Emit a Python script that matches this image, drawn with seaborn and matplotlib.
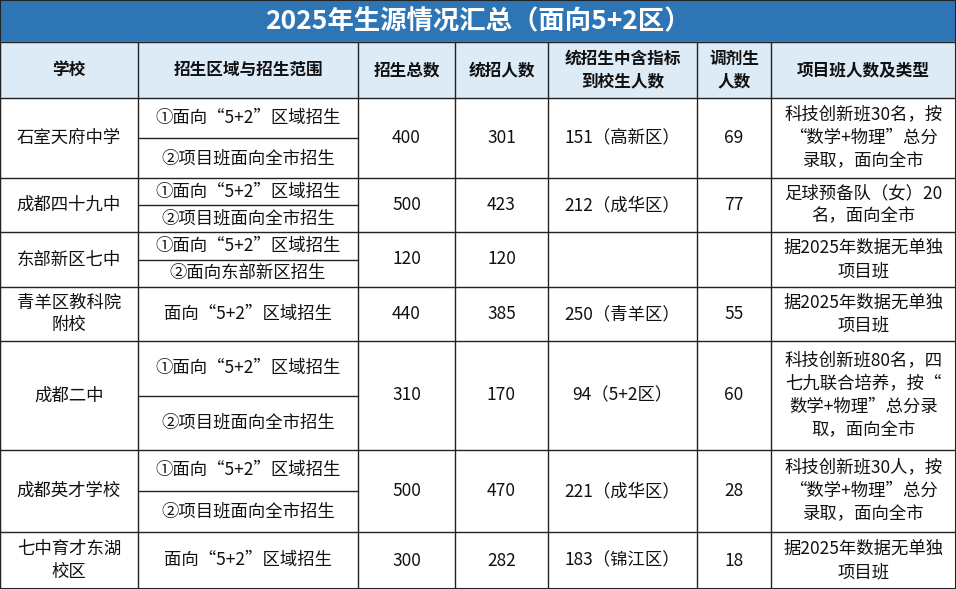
import matplotlib
matplotlib.use("Agg")
import matplotlib.pyplot as plt
import seaborn as sns

sns.set_theme(style="white")
plt.rcParams["font.family"] = ["Noto Sans CJK SC", "DejaVu Sans"]

title = "2025年生源情况汇总（面向5+2区）"
headers = ["学校", "招生区域与招生范围", "招生总数", "统招人数",
           "统招生中含指标\n到校生人数", "调剂生\n人数", "项目班人数及类型"]
schools = ["石室天府中学", "成都四十九中", "东部新区七中", "青羊区教科院\n附校",
           "成都二中", "成都英才学校", "七中育才东湖\n校区"]
scopes = [
    ["①面向“5+2”区域招生", "②项目班面向全市招生"],
    ["①面向“5+2”区域招生", "②项目班面向全市招生"],
    ["①面向“5+2”区域招生", "②面向东部新区招生"],
    ["面向“5+2”区域招生"],
    ["①面向“5+2”区域招生", "②项目班面向全市招生"],
    ["①面向“5+2”区域招生", "②项目班面向全市招生"],
    ["面向“5+2”区域招生"],
]
total = ["400", "500", "120", "440", "310", "500", "300"]
unified = ["301", "423", "120", "385", "170", "470", "282"]
quota = ["151（高新区）", "212（成华区）", "", "250（青羊区）", "94（5+2区）",
         "221（成华区）", "183（锦江区）"]
adjust = ["69", "77", "", "55", "60", "28", "18"]
project = ["科技创新班30名，按\n“数学+物理”总分\n录取，面向全市",
           "足球预备队（女）20\n名，面向全市",
           "据2025年数据无单独\n项目班",
           "据2025年数据无单独\n项目班",
           "科技创新班80名，四\n七九联合培养，按“\n数学+物理”总分录\n取，面向全市",
           "科技创新班30人，按\n“数学+物理”总分\n录取，面向全市",
           "据2025年数据无单独\n项目班"]

col_x = [0, 138, 358, 455, 548, 697, 771, 956]
row_y = [98, 178, 232, 287, 341, 450, 532, 589]
title_h, header_b = 42, 98
W, H = 956, 589

fig = plt.figure(figsize=(9.56, 5.89), dpi=100)
ax = fig.add_axes([0, 0, 1, 1])
ax.set_xlim(0, W)
ax.set_ylim(H, 0)
ax.axis("off")

ax.add_patch(plt.Rectangle((0, 0), W, title_h, color="#2E75B6", zorder=0))
ax.add_patch(plt.Rectangle((0, title_h), W, header_b - title_h, color="#DDEBF7", zorder=0))
ax.text(W / 2, title_h / 2 + 1, title, color="white", fontsize=19, fontweight="bold",
        ha="center", va="center")

lc, lw = "#222222", 1.0
for i, h in enumerate(headers):
    cx = (col_x[i] + col_x[i + 1]) / 2
    ax.text(cx, (title_h + header_b) / 2, h, fontsize=12, fontweight="bold",
            ha="center", va="center", linespacing=1.3, color="#111111")

# grid lines
ax.plot([0, W], [title_h, title_h], color=lc, lw=lw)
for y in row_y:
    ax.plot([0, W], [y, y], color=lc, lw=lw)
for x in col_x:
    ax.plot([x, x], [title_h, H], color=lc, lw=lw)
ax.plot([0, W, W, 0, 0], [0, 0, H, H, 0], color=lc, lw=1.5)

body = dict(fontsize=12.5, ha="center", va="center", color="#111111", linespacing=1.35)
for r in range(len(schools)):
    y0, y1 = row_y[r], row_y[r + 1]
    cy = (y0 + y1) / 2
    vals = [schools[r], None, total[r], unified[r], quota[r], adjust[r], project[r]]
    for c, v in enumerate(vals):
        if v is None:
            continue
        cx = (col_x[c] + col_x[c + 1]) / 2
        ax.text(cx, cy, v, **body)
    n = len(scopes[r])
    step = (y1 - y0) / n
    for k, s in enumerate(scopes[r]):
        ax.text((col_x[1] + col_x[2]) / 2, y0 + step * (k + 0.5), s, **body)
        if k > 0:
            ax.plot([col_x[1], col_x[2]], [y0 + step * k] * 2, color=lc, lw=lw)

fig.savefig("out.png", dpi=100)
